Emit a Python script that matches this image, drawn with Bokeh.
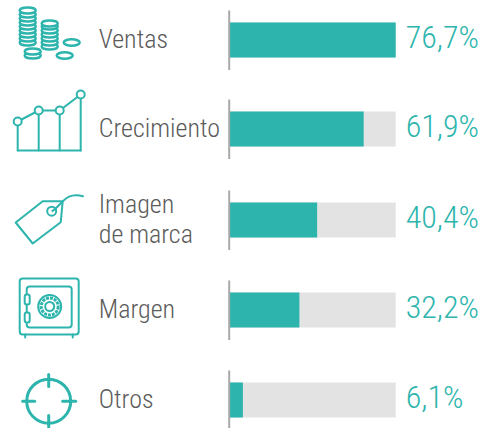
from bokeh.plotting import figure
from bokeh.models import Range1d
from bokeh.core.properties import value
from bokeh.embed import file_html
from bokeh.resources import INLINE

categories = ["Ventas", "Crecimiento", "Imagen\nde marca", "Margen", "Otros"]
values = [76.7, 61.9, 40.4, 32.2, 6.1]
scale_max = 76.7
labels = ["76,7%", "61,9%", "40,4%", "32,2%", "6,1%"]

# layout, in reference pixels
W, H = 483, 428
DX = 0.8
row_y = [39.5, 128.5, 219.5, 309.5, 399.5]
BAR_L, BAR_R = 230, 396
TEAL, GREY, TEXT, AXIS = "#2db5ad", "#e2e3e2", "#5b5b5b", "#a9a9a9"
FONT = "Roboto Condensed Light"

k = (BAR_R - BAR_L) / scale_max
p = figure(width=W, height=H, output_backend="svg", toolbar_location=None,
           x_axis_type=None, y_axis_type=None, min_border=0,
           x_range=Range1d(-(BAR_L - DX) / k, (W - BAR_L + DX) / k),
           y_range=Range1d(H, 0))
p.extra_x_ranges["px"] = Range1d(DX, W + DX)
p.outline_line_color = None
p.grid.visible = False
p.background_fill_color = "white"
p.border_fill_color = "white"

# bars
p.hbar(y=row_y, left=0, right=scale_max, height=35, color=GREY, line_color=None)
p.hbar(y=row_y, left=0, right=values, height=35, color=TEAL, line_color=None)
p.segment(x0=[229.5] * 5, x1=[229.5] * 5, y0=[y - 29.5 for y in row_y], y1=[y + 30 for y in row_y],
          line_color=AXIS, line_width=2, x_range_name="px")

# texts
p.text(x=[99] * 5, y=[y - 1.5 for y in row_y], text=categories, text_font=value(FONT),
       text_font_size="26px", text_color=TEXT, text_baseline="middle", text_align="left",
       text_line_height=1.0, x_range_name="px")
p.text(x=[406] * 5, y=[y - 3 for y in row_y], text=labels, text_font=value(FONT),
       text_font_size="32px", text_color=TEAL, text_baseline="middle", text_align="left",
       x_range_name="px")

# icon helpers
S = dict(line_color=TEAL, x_range_name="px")
def ell(x, y, rx, ry, lw=2.5, fill="white"):
    p.ellipse(x=[x], y=[y], width=2 * rx, height=2 * ry, fill_color=fill, line_width=lw, **S)
def poly(xs, ys, lw=2):
    p.line(xs, ys, line_width=lw, line_join="round", line_cap="round", **S)
def box(l, r, t, b, rad=3, lw=2, fill="white"):
    p.quad(left=[l], right=[r], top=[t], bottom=[b], border_radius=rad, fill_color=fill, line_width=lw, **S)

# coins
for yy in [42, 38, 34, 30, 26, 22, 18, 14, 10]:
    ell(28, yy, 8, 3)
for yy in [46, 42, 38, 34, 30, 26, 23]:
    ell(50, yy, 8, 3)
for yy in [55, 51]:
    ell(33, yy, 8, 3)
ell(72, 42, 8, 3.2)
ell(65, 55, 8, 3.2)

# growth
gx, gy = [18, 39, 60, 81], [121, 110, 110, 94]
for a, b in zip(gx, gy):
    poly([a, a], [b, 150])
poly([18, 81], [150, 150])
poly(gx, gy)
for a, b in zip(gx, gy):
    p.scatter([a], [b], size=8, marker="circle", fill_color="white", line_width=2, **S)

# tag
poly([16, 43, 63, 61, 33, 16], [222, 200.7, 200.7, 221.7, 243, 222])
p.scatter([52], [210.7], size=9, marker="circle", fill_color="white", line_width=2, **S)
p.bezier(x0=[52], y0=[211], x1=[84], y1=[196], cx0=[62], cy0=[205], cx1=[66], cy1=[190], line_width=2, **S)

# safe
box(20, 79, 278, 334)
box(27, 72, 286, 327)
box(25, 30, 294, 304, rad=2)
box(25, 30, 312, 322, rad=2)
poly([25.5, 25.5], [334, 337])
poly([73, 73], [334, 337])
p.scatter([50], [306], size=23, marker="circle", fill_color="white", line_width=2, **S)
p.scatter([50], [306], size=17, marker="circle", fill_color=None, line_width=3, line_dash="3 1", **S)
p.scatter([50], [306], size=9, marker="circle", fill_color="white", line_width=2, **S)

# target
p.scatter([49], [400.7], size=44, marker="circle", fill_color=None, line_width=3, **S)
for xs, ys in [([49, 49], [374, 386]), ([49, 49], [415, 427]), ([23, 35], [400.7, 400.7]), ([63, 76], [400.7, 400.7])]:
    poly(xs, ys, lw=3)

open("out.html", "w").write(file_html(p, INLINE))
